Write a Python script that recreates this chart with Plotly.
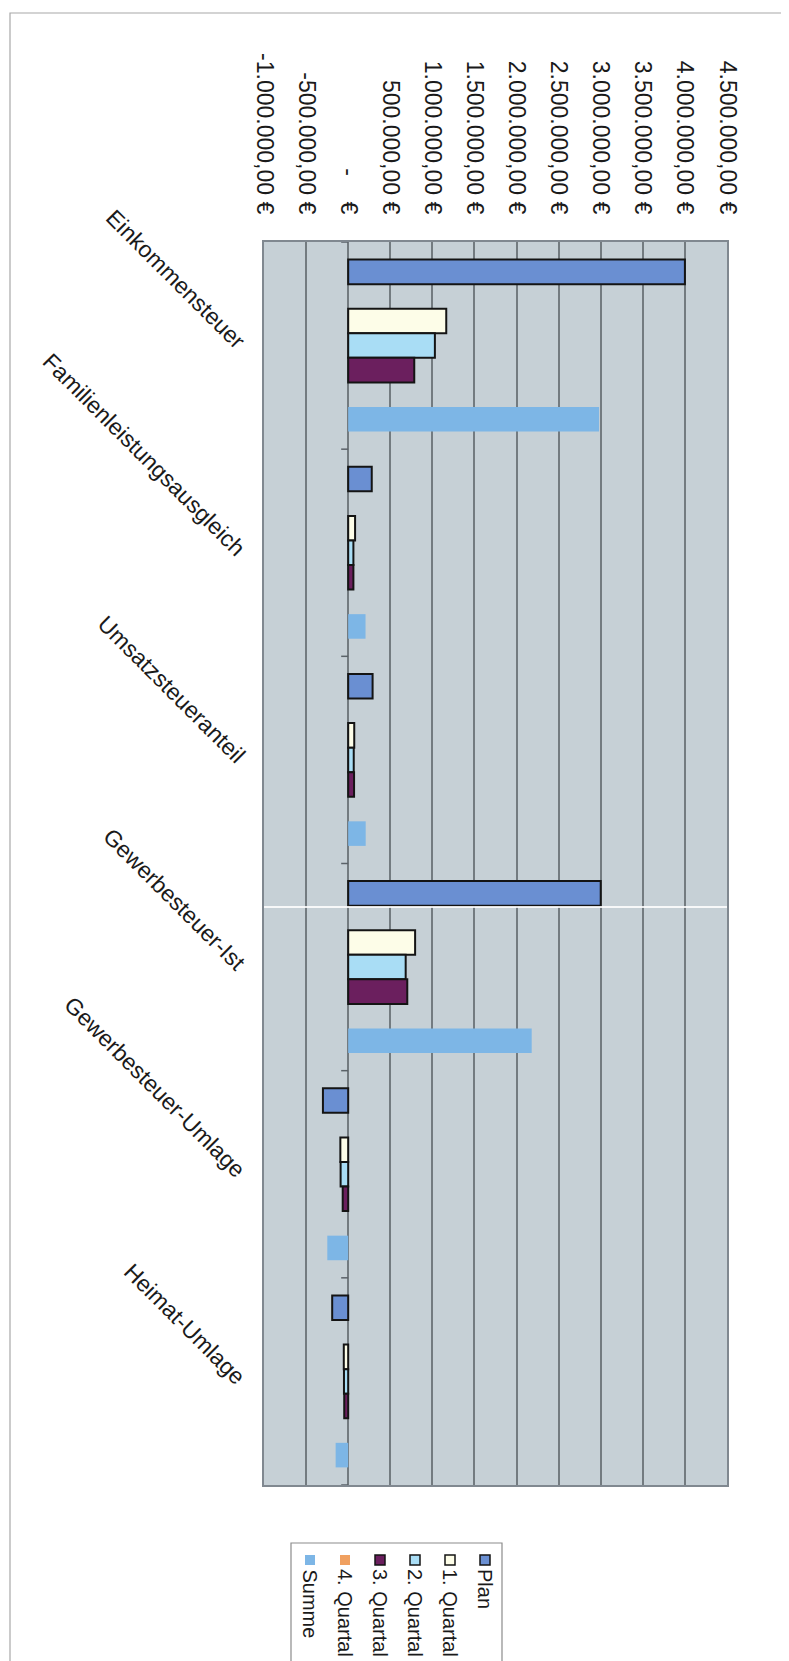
import plotly.graph_objects as go

# ---------------- data ----------------
categories = ["Einkommensteuer", "Familienleistungsausgleich", "Umsatzsteueranteil",
              "Gewerbesteuer-Ist", "Gewerbesteuer-Umlage", "Heimat-Umlage"]
plan = [4000000, 280000, 290000, 3000000, -300000, -190000]
q1 = [1165000, 82000, 72000, 795000, -93000, -52000]
q2 = [1030000, 62000, 66000, 683000, -90000, -50000]
q3 = [785000, 62000, 70000, 702000, -65000, -47000]
q4 = [0, 0, 0, 0, 0, 0]
summe = [2980000, 206000, 208000, 2180000, -248000, -149000]
unlabelled = [None, None, None, None, None, None]  # empty series slot (not in legend)

tick_values = [-1000000, -500000, 0, 500000, 1000000, 1500000, 2000000,
               2500000, 3000000, 3500000, 4000000, 4500000]
tick_labels = ["-1.000.000,00 €", "-500.000,00 €", "-\u00a0\u00a0\u00a0\u00a0€",
               "500.000,00 €", "1.000.000,00 €", "1.500.000,00 €", "2.000.000,00 €",
               "2.500.000,00 €", "3.000.000,00 €", "3.500.000,00 €", "4.000.000,00 €",
               "4.500.000,00 €"]

legend_names = ["Plan", "1. Quartal", "2. Quartal", "3. Quartal", "4. Quartal", "Summe"]

# ---------------- styles ----------------
FONT = "Liberation Sans, Arial, sans-serif"
C_PLAN = "#6A8FD2"
C_Q1 = "#FDFDE8"
C_Q2 = "#A9DDF5"
C_Q3 = "#6B1F5E"
C_Q4 = "#F0A060"
C_SUM = "#7DB6E6"
EDGE = "#141414"

W, H = 789, 1661
L, R, T, B = 256, 719, 234, 1477


def px(X):
    return (X - L) / (R - L)


def py(Y):
    return (B - Y) / (B - T)


series = [
    (plan, C_PLAN, 2),
    (unlabelled, "rgba(0,0,0,0)", 0),
    (q1, C_Q1, 2),
    (q2, C_Q2, 2),
    (q3, C_Q3, 2),
    (q4, C_Q4, 0),
    (summe, C_SUM, 0),
]

fig = go.Figure()
for vals, col, lw in series:
    fig.add_trace(go.Bar(
        y=categories, x=vals, orientation="h",
        marker=dict(color=col, line=dict(color=EDGE, width=lw)),
        showlegend=False, hoverinfo="skip",
    ))

fig.update_layout(
    width=W, height=H,
    margin=dict(l=L, r=W - R, t=T, b=H - B),
    paper_bgcolor="white",
    plot_bgcolor="#C6D0D6",
    barmode="group", bargap=0.17, bargroupgap=0,
    font=dict(family=FONT, size=23, color="#1a1a1a"),
    xaxis=dict(
        side="top", range=[-1000000, 4500000],
        tickmode="array", tickvals=tick_values, ticktext=tick_labels,
        tickangle=90, tickfont=dict(size=23, family=FONT, color="#1a1a1a"),
        showgrid=True, gridcolor="#737B80", gridwidth=1.5,
        zeroline=True, zerolinecolor="#737B80", zerolinewidth=1.5,
        showline=True, linecolor="#808890", linewidth=1.5, mirror=True,
        ticks="", ticklabelstandoff=18,
    ),
    yaxis=dict(
        type="category", range=[5.5, -0.5],
        tickangle=45, tickfont=dict(size=23, family=FONT, color="#1a1a1a"),
        showgrid=False, zeroline=False,
        showline=True, linecolor="#808890", linewidth=1.5, mirror=True,
        ticks="", ticklabelstandoff=14,
    ),
)

shapes = []
# outer chart border
shapes.append(dict(type="rect", xref="paper", yref="paper",
                   x0=px(2), x1=px(783), y0=py(1659), y1=py(5),
                   line=dict(color="#A8A8A8", width=1.2), fillcolor="rgba(0,0,0,0)", layer="below"))
# category-axis tick marks at the zero line
for k in range(len(categories) + 1):
    shapes.append(dict(type="line", xref="x", yref="y", xsizemode="pixel", xanchor=0,
                       x0=-7, x1=0, y0=k - 0.5, y1=k - 0.5,
                       line=dict(color="#5A6268", width=1.5)))
# scan artefact line
shapes.append(dict(type="line", xref="paper", yref="paper", x0=0, x1=1,
                   y0=py(899), y1=py(899), line=dict(color="rgba(255,255,255,0.85)", width=2)))
# legend box
shapes.append(dict(type="rect", xref="paper", yref="paper",
                   x0=px(283), x1=px(494), y0=py(1655), y1=py(1535),
                   line=dict(color="#8C8C8C", width=1.2), fillcolor="white"))

legend_cols = [C_PLAN, C_Q1, C_Q2, C_Q3, C_Q4, C_SUM]
legend_edge = [True, True, True, True, False, False]
annotations = []
for i, name in enumerate(legend_names):
    cx = 477 - 35 * i
    shapes.append(dict(type="rect", xref="paper", yref="paper",
                       x0=px(cx - 5), x1=px(cx + 5), y0=py(1557), y1=py(1547),
                       fillcolor=legend_cols[i],
                       line=dict(color=EDGE if legend_edge[i] else legend_cols[i],
                                 width=1.5 if legend_edge[i] else 0)))
    annotations.append(dict(xref="paper", yref="paper", x=px(cx), y=py(1559),
                            text=name, showarrow=False, textangle=90,
                            xanchor="center", yanchor="top",
                            font=dict(size=20, family=FONT, color="#1a1a1a")))

fig.update_layout(shapes=shapes, annotations=annotations)
fig.write_html("out.html")
